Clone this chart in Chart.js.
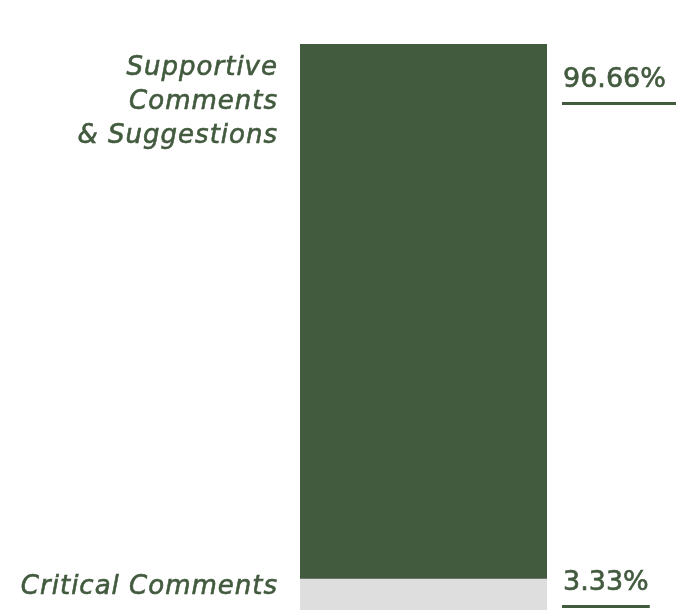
<!DOCTYPE html>
<html>
<head>
<meta charset="utf-8">
<script src="https://cdn.jsdelivr.net/npm/chart.js@4/dist/chart.umd.min.js"></script>
<style>
html,body{margin:0;padding:0;background:#fff;overflow:hidden}
#wrap{width:676px;height:610px;position:relative}
</style>
</head>
<body>
<div id="wrap"><canvas id="chart"></canvas></div>
<script>
// data
const categories = ["Critical Comments", "Supportive Comments & Suggestions"]
const labelLines = [["Critical Comments"], ["Supportive", "Comments", "& Suggestions"]]
const values = [3.33, 96.66]
const valueLabels = ["3.33%", "96.66%"]

const green = "#425a3e"
const grey = "#dedede"

// text with a thin outline so it reads a bit heavier (medium weight)
function heavyText(ctx, t, x, y){
  ctx.fillText(t, x, y)
  ctx.strokeText(t, x, y)
}

const labelPlugin = {
  id: "sideLabels",
  afterDatasetsDraw(chart){
    const ctx = chart.ctx
    const area = chart.chartArea
    chart.data.datasets.forEach((ds, i) => {
      const bar = chart.getDatasetMeta(i).data[0]
      // visible top of the bar (it is clipped to the chart area)
      const top = Math.max(area.top, Math.min(bar.y, bar.base))
      ctx.save()
      ctx.fillStyle = green
      ctx.strokeStyle = green
      ctx.lineWidth = 0.6
      // left category label
      ctx.font = "italic 26px 'DejaVu Sans'"
      ctx.letterSpacing = "1px"
      ctx.textAlign = "right"
      ctx.textBaseline = "alphabetic"
      labelLines[i].forEach((t, j) => {
        heavyText(ctx, t, area.left - 22, top + ds.leftOffset + j * 34)
      })
      // right value label with underline
      ctx.font = "27px 'DejaVu Sans'"
      ctx.letterSpacing = "0px"
      ctx.textAlign = "left"
      const x = area.right + 16
      const y = top + ds.rightOffset
      heavyText(ctx, valueLabels[i], x, y)
      const w = ctx.measureText(valueLabels[i]).width
      ctx.fillRect(x - 1, y + 15, ds.lineToEdge ? chart.width - x + 1 : w + 2, 3)
      ctx.restore()
    })
  }
}

let chart = new Chart(
  document.getElementById("chart"),
  {
    type: "bar",
    data: {
      labels: [""],
      datasets: [
        {
          label: categories[0],
          data: [values[0]],
          backgroundColor: grey,
          minBarLength: 31,
          leftOffset: 15,
          rightOffset: 11,
          lineToEdge: false
        },
        {
          label: categories[1],
          data: [values[1]],
          backgroundColor: green,
          leftOffset: 31,
          rightOffset: 43,
          lineToEdge: true
        }
      ]
    },
    options: {
      responsive: true,
      maintainAspectRatio: false,
      animation: false,
      layout: { padding: { left: 300, right: 129, top: 44, bottom: 0 } },
      datasets: { bar: { barPercentage: 1, categoryPercentage: 1, borderWidth: 0 } },
      scales: {
        x: { stacked: true, display: false },
        y: { stacked: true, display: false, min: 0, max: 99.99 }
      },
      plugins: {
        legend: { display: false },
        tooltip: { enabled: false }
      }
    },
    plugins: [labelPlugin]
  }
)
</script>
</body>
</html>
